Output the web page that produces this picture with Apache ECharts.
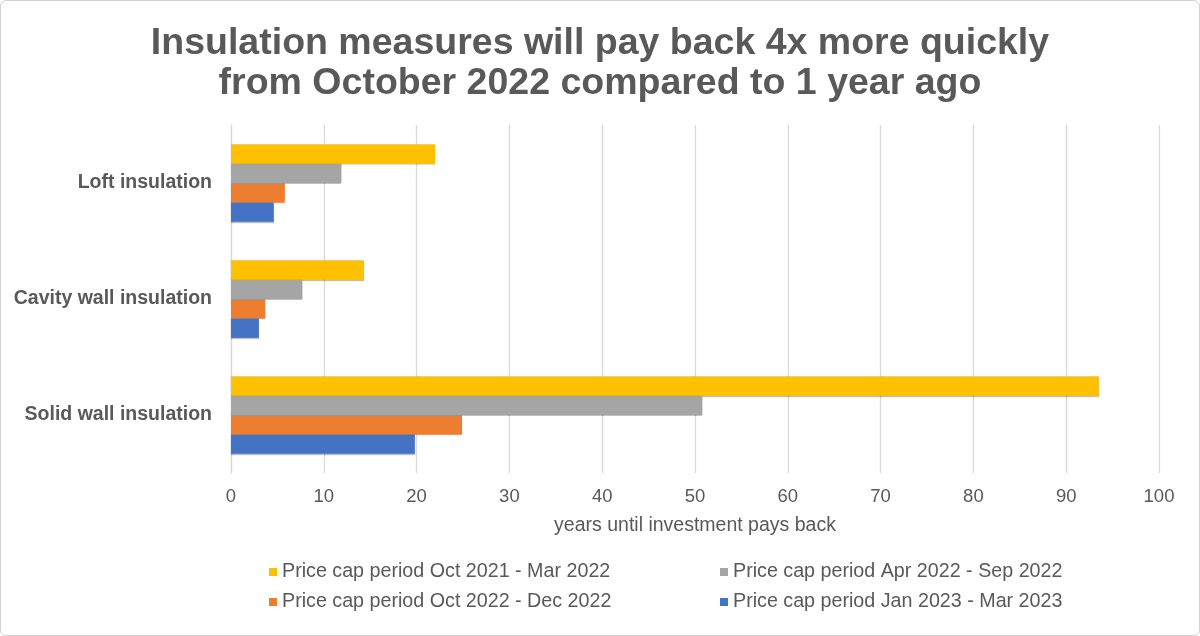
<!DOCTYPE html>
<html>
<head>
<meta charset="utf-8">
<script src="https://cdn.jsdelivr.net/npm/echarts@6/dist/echarts.min.js"></script>
<style>
html,body{margin:0;padding:0;background:#fff;}
#wrap{width:1200px;height:636px;box-sizing:border-box;border:1px solid #d0d0d0;border-radius:6px;overflow:hidden;}
#chart{width:1198px;height:634px;}
</style>
</head>
<body>
<div id="wrap"><div id="chart"></div></div>
<script>
const categories = ['Loft insulation', 'Cavity wall insulation', 'Solid wall insulation'];
const seriesNames = [
  'Price cap period Oct 2021 - Mar 2022',
  'Price cap period Apr 2022 - Sep 2022',
  'Price cap period Oct 2022 - Dec 2022',
  'Price cap period Jan 2023 - Mar 2023'
];
const oct21Mar22 = [22.0, 14.3, 93.5];
const apr22Sep22 = [11.9, 7.7, 50.8];
const oct22Dec22 = [5.8, 3.7, 24.9];
const jan23Mar23 = [4.6, 3.0, 19.8];
const xTicks = [0, 10, 20, 30, 40, 50, 60, 70, 80, 90, 100];
const titleText = 'Insulation measures will pay back 4x more quickly\nfrom October 2022 compared to 1 year ago';
const axisName = 'years until investment pays back';

const colors = ['#FFC000', '#A5A5A5', '#ED7D31', '#4472C4'];
const values = [oct21Mar22, apr22Sep22, oct22Dec22, jan23Mar23];
const FONT = '"Liberation Sans", Arial, sans-serif';
const TXT = '#595959';

const chart = echarts.init(document.getElementById('chart'), null, {renderer: 'canvas'});

const legendPos = [
  {left: 268, top: 561},
  {left: 719, top: 561},
  {left: 268, top: 591},
  {left: 719, top: 591}
];

const option = {
  animation: false,
  color: colors,
  textStyle: {fontFamily: FONT},
  title: {
    text: titleText,
    left: 'center',
    top: 18,
    textStyle: {fontFamily: FONT, fontSize: 37.5, fontWeight: 'bold', color: TXT, lineHeight: 40}
  },
  legend: seriesNames.map((n, i) => ({
    data: [n],
    left: legendPos[i].left,
    top: legendPos[i].top,
    itemWidth: 8,
    itemHeight: 8,
    itemGap: 0,
    icon: 'rect',
    padding: 0,
    textStyle: {fontFamily: FONT, fontSize: 19.7, color: TXT, padding: [0, 0, 0, 0]}
  })),
  grid: {left: 230, right: 40, top: 124, bottom: 162, containLabel: false},
  xAxis: {
    type: 'value',
    min: 0,
    max: 100,
    interval: 10,
    axisLine: {show: false},
    axisTick: {show: false},
    splitLine: {show: true, lineStyle: {color: '#d9d9d9', width: 1.3}},
    axisLabel: {
      fontFamily: FONT, fontSize: 18.5, color: TXT, margin: 14,
      formatter: v => xTicks.includes(v) ? String(v) : ''
    },
    name: axisName,
    nameLocation: 'middle',
    nameGap: 43,
    nameTextStyle: {fontFamily: FONT, fontSize: 19.5, color: TXT}
  },
  yAxis: {
    type: 'category',
    data: categories,
    inverse: true,
    axisLine: {show: true, lineStyle: {color: '#d9d9d9', width: 1.3}},
    axisTick: {show: false},
    axisLabel: {fontFamily: FONT, fontSize: 19.5, fontWeight: 'bold', color: TXT, margin: 19, padding: [4, 0, 0, 0]}
  },
  series: seriesNames.map((n, i) => ({
    name: n,
    type: 'bar',
    data: values[i],
    barGap: '0%',
    barCategoryGap: '33%',
    itemStyle: {color: colors[i], shadowColor: 'rgba(0,0,0,0.25)', shadowBlur: 1, shadowOffsetY: 1}
  }))
};
chart.setOption(option);
</script>
</body>
</html>
